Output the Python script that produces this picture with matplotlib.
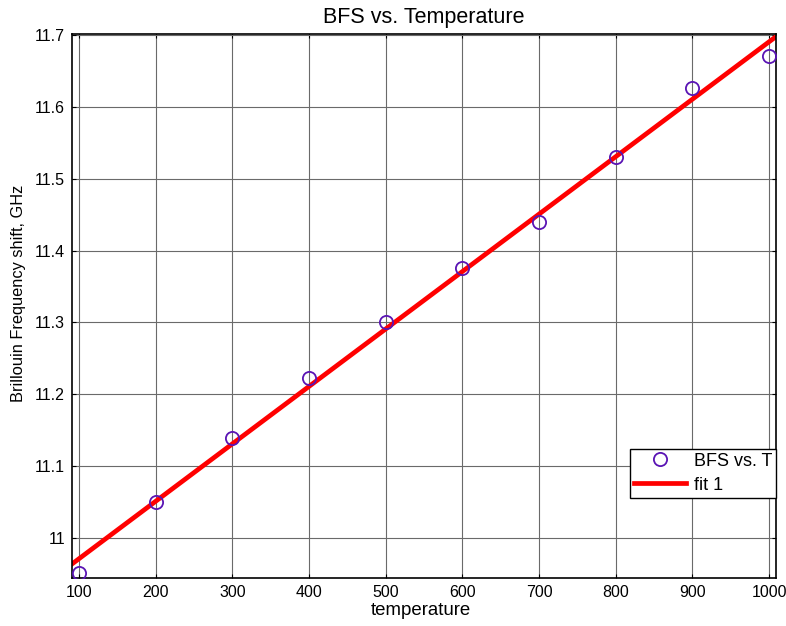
import numpy as np
import matplotlib
matplotlib.use("Agg")
import matplotlib.pyplot as plt

plt.rcParams['font.family'] = ['Liberation Sans', 'DejaVu Sans']

# Measured Brillouin frequency shift versus temperature
temperature = np.array([100, 200, 300, 400, 500, 600, 700, 800, 900, 1000])
bfs_ghz = np.array([10.951, 11.050, 11.139, 11.223, 11.301, 11.375, 11.440, 11.530, 11.627, 11.671])

x_ticks = [100, 200, 300, 400, 500, 600, 700, 800, 900, 1000]
y_ticks = [11.0, 11.1, 11.2, 11.3, 11.4, 11.5, 11.6, 11.7]
y_tick_labels = ['11', '11.1', '11.2', '11.3', '11.4', '11.5', '11.6', '11.7']

# Linear fit ("fit 1") evaluated across the full x-range
xlim = (91, 1009)
slope, intercept = np.polyfit(temperature, bfs_ghz, 1)
x_fit = np.linspace(xlim[0], xlim[1], 200)
y_fit = slope * x_fit + intercept

fig = plt.figure(figsize=(7.86, 6.26), dpi=100)
ax = fig.add_axes([72 / 786, 1 - 578 / 626, (776 - 72) / 786, (578 - 34) / 626])

ax.plot(temperature, bfs_ghz, linestyle='none', marker='o', markersize=9.5,
        markerfacecolor='none', markeredgecolor='#5a14b4', markeredgewidth=1.3,
        label='BFS vs. T', zorder=3)
ax.plot(x_fit, y_fit, color='#ff0000', linewidth=3.4, label='fit 1', zorder=2)

ax.set_xlim(*xlim)
ax.set_ylim(10.944, 11.7015)
ax.set_xticks(x_ticks)
ax.set_yticks(y_ticks)
ax.set_yticklabels(y_tick_labels)

ax.grid(True, color='#6a6a6a', linewidth=0.8, linestyle='-')
ax.set_axisbelow(True)
ax.tick_params(direction='in', length=3, width=0.8, top=True, right=True,
               labelsize=11.5, pad=5, colors='black')
for s in ax.spines.values():
    s.set_linewidth(1.2)
    s.set_color('black')

ax.set_title('BFS vs. Temperature', fontsize=15.5, pad=8)
ax.set_xlabel('temperature', fontsize=13.4)
ax.xaxis.set_label_coords(0.495, -0.044)
ax.set_ylabel('Brillouin Frequency shift, GHz', fontsize=11.8)
ax.yaxis.set_label_coords(-0.066, 0.524)

leg = ax.legend(loc='lower right', bbox_to_anchor=(1.0, (578 - 497.5) / 544),
                borderaxespad=0, fancybox=False, framealpha=1, edgecolor='black',
                fontsize=13, handlelength=2.9, borderpad=0.22, labelspacing=0.38,
                handletextpad=0.4)
leg.get_frame().set_linewidth(1.0)

fig.savefig('out.png', dpi=100)
